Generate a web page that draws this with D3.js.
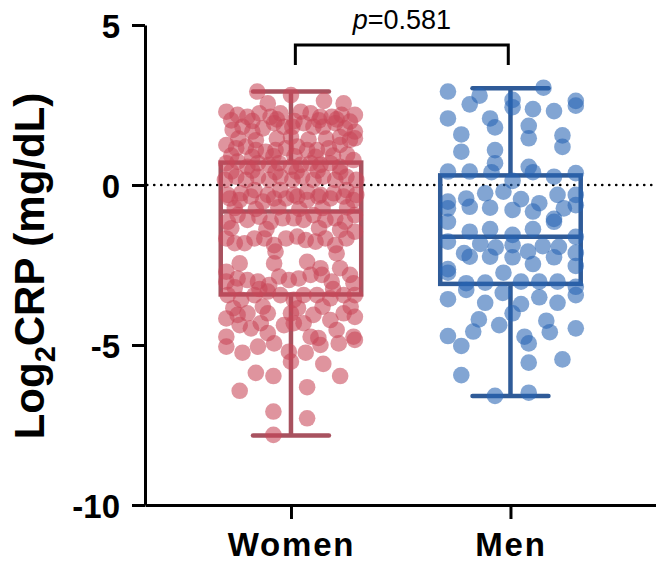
<!DOCTYPE html>
<html>
<head>
<meta charset="utf-8">
<script src="https://cdn.jsdelivr.net/npm/d3@7"></script>
<style>
  html, body { margin: 0; padding: 0; background: #fff; }
  svg { display: block; }
</style>
</head>
<body>
<svg id="chart" width="656" height="562"></svg>
<script>
// ---------------- DATA ----------------
const groups = ["Women", "Men"];
const yTicks = [5, 0, -5, -10];
const yLabelMain = "Log";
const yLabelSub = "2";
const yLabelRest = "CRP (mg/dL)";
const pText = "=0.581";

// box-plot statistics (min, q1, median, q3, max)
const boxMin    = [-7.83, -6.59];
const boxQ1     = [-3.42, -3.09];
const boxMedian = [-0.83, -1.62];
const boxQ3     = [ 0.70,  0.30];
const boxMax    = [ 2.92,  3.02];

// individual points: [horizontal jitter in % of box half-width, Log2CRP value]
const womenPoints = [
  [-48,2.92],[0,2.81],[47,2.63],[75,2.55],[-33,2.55],
  [-92,2.29],[-76,2.19],[-62,2.13],[-45,2.24],[-29,2.13],[-15,2.24],[14,2.29],[28,2.24],[42,2.13],[58,2.13],[72,2.19],[91,2.19],[84,1.98],
  [-85,2.02],[-55,2.00],[-20,2.05],[5,2.00],[40,2.02],[65,2.05],
  [-83,1.72],[-69,1.82],[-55,1.67],[-40,1.77],[-24,1.93],[-10,1.82],[2,1.82],[18,1.93],[32,1.82],[46,1.82],[63,1.93],[77,1.77],[91,1.67],[91,1.46],
  [-75,1.45],[-50,1.40],[-20,1.45],[0,1.50],[25,1.42],[50,1.45],[70,1.50],
  [-92,1.25],[-78,1.15],[-64,1.20],[-50,1.09],[-36,1.04],[-22,1.09],[-7,1.15],[9,1.20],[23,1.09],[37,1.09],[54,1.15],[70,1.25],[84,1.41],
  [-85,0.92],[-55,0.88],[-25,0.90],[5,0.90],[35,0.88],[60,0.92],[80,0.95],
  [-92,0.68],[-76,0.73],[-62,0.57],[-47,0.68],[-31,0.63],[-17,0.68],[0,0.57],[14,0.63],[28,0.68],[42,0.63],[56,0.68],[70,0.57],[89,0.78],
  [-85,0.42],[-55,0.45],[-22,0.40],[8,0.42],[38,0.45],[70,0.40],
  [-94,0.16],[-78,0.26],[-64,0.16],[-47,0.26],[-31,0.16],[-15,0.26],[2,0.16],[16,0.26],[32,0.16],[46,0.26],[63,0.16],[79,0.26],[93,0.16],
  [-90,-0.31],[-71,-0.26],[-52,-0.16],[-33,-0.31],[-15,-0.16],[4,-0.31],[23,-0.21],[42,-0.31],[61,-0.26],[79,-0.16],[93,-0.31],
  [-87,-0.42],[-73,-0.47],[-57,-0.36],[-40,-0.52],[-24,-0.42],[-7,-0.42],[9,-0.36],[23,-0.47],[39,-0.36],[56,-0.42],[75,-0.36],[89,-0.47],
  [-80,-0.72],[-50,-0.75],[-18,-0.70],[12,-0.75],[45,-0.72],[80,-0.70],
  [-90,-1.15],[-76,-0.94],[-62,-1.09],[-45,-0.99],[-29,-1.15],[-12,-1.04],[4,-1.04],[18,-1.09],[32,-0.94],[49,-1.09],[63,-1.04],[77,-1.15],[91,-0.94],
  [-85,-1.35],[-35,-1.38],[40,-1.35],[70,-1.40],
  [-92,-1.67],[-80,-1.82],[-66,-1.82],[-52,-1.67],[-38,-1.67],[-24,-1.88],[-7,-1.67],[9,-1.61],[21,-1.72],[35,-1.77],[49,-1.67],[63,-1.88],[79,-1.67],[91,-1.46],
  [-22,-2.08],[65,-2.14],[-73,-2.45],[-24,-2.45],[23,-2.40],[42,-2.60],
  [-92,-2.71],[-92,-3.02],[-76,-2.92],[-62,-2.97],[-47,-3.02],[-31,-3.13],[-17,-2.86],[-3,-2.97],[11,-2.92],[28,-2.81],[44,-2.81],[58,-3.02],[70,-2.60],[84,-2.81],[89,-3.07],
  [-80,-3.20],[-45,-3.25],[60,-3.25],
  [-90,-3.44],[-71,-3.59],[-52,-3.44],[-33,-3.33],[-15,-3.44],[4,-3.59],[18,-3.44],[37,-3.44],[56,-3.54],[75,-3.44],[91,-3.44],
  [-82,-3.85],[-40,-3.80],[10,-3.85],[45,-3.80],[85,-3.80],
  [-92,-4.17],[-92,-4.74],[-73,-4.38],[-57,-4.48],[-43,-4.32],[-33,-4.63],[-10,-4.38],[4,-4.32],[18,-4.32],[28,-4.74],[39,-4.78],[56,-4.22],[65,-4.53],[75,-4.01],[91,-4.12],[89,-4.74],
  [-62,-4.01],[-33,-4.01],[-76,-4.06],[32,-4.06],[0,-4.01],
  [-92,-5.05],[-69,-5.24],[-47,-5.05],[-24,-4.95],[-3,-5.21],[0,-5.52],[21,-5.24],[42,-5.00],[68,-4.95],[91,-4.84],[46,-5.59],
  [-50,-5.87],[-25,-5.97],[70,-5.97],[-73,-6.43],[23,-6.32],[-25,-7.08],[23,-7.29],[-25,-7.81]
];

const menPoints = [
  [-89,2.92],[-44,2.79],[-58,2.52],[3,2.66],[3,2.43],[47,3.04],[93,2.63],[93,2.48],[32,2.37],[62,2.31],
  [-89,2.08],[-29,2.08],[-22,1.80],[26,1.85],[26,1.46],[-70,1.58],[74,1.55],[74,1.19],[-70,1.04],[-22,1.09],
  [-22,0.68],[-27,0.40],[-89,0.42],[-58,0.42],[26,0.57],[32,0.40],[62,0.26],[93,0.37],[3,0.13],
  [-36,-0.26],[-10,-0.21],[15,-0.44],[-63,-0.42],[-89,-0.52],[-89,-0.73],[-58,-0.68],[-29,-0.71],[3,-0.78],[41,-0.57],[32,-0.83],
  [67,-0.31],[93,-0.31],[93,-0.63],[76,-0.73],[62,-1.06],[62,-1.15],[-89,-1.15],[-58,-1.46],[-29,-1.38],[3,-1.56],[32,-1.38],[93,-1.62],
  [-89,-1.77],[-43,-1.84],[3,-1.88],[-21,-1.95],[46,-1.91],[69,-1.93],[93,-2.12],[-66,-2.13],[-58,-2.24],[-29,-2.24],[3,-2.26],[25,-2.08],[62,-2.26],
  [32,-2.47],[93,-2.53],[-89,-2.63],[-89,-2.74],[-10,-2.74],[-63,-3.07],[-63,-3.28],[-36,-3.05],[15,-3.02],[41,-3.02],[67,-3.02],[93,-3.18],[93,-3.44],
  [-89,-3.57],[-11,-3.37],[-36,-3.68],[15,-3.72],[41,-3.51],[67,-3.68],[3,-4.01],[-45,-4.20],[51,-4.24],[-16,-4.38],[-53,-4.58],[56,-4.60],[93,-4.48],
  [-89,-4.72],[20,-4.74],[26,-4.95],[-70,-5.03],[26,-5.55],[74,-5.45],[-70,-5.94],[-22,-6.59],[26,-6.49]
];

// ---------------- STYLE ----------------
const pointFill   = ["rgb(200,70,88)", "rgb(40,100,180)"];
const pointAlpha  = 0.58;
const boxStroke   = ["#a8525f", "#2f5b98"];
const boxHalf     = 0.32;   // category units
const capHalf     = 0.173;  // category units
const pointR      = 8.3;
const font        = "'Liberation Sans', Arial, Helvetica, sans-serif";

// ---------------- SCALES ----------------
const svg = d3.select("#chart");
const y = d3.scaleLinear().domain([-10, 5]).range([505, 25]);
const x = d3.scaleLinear().domain([-0.665, 1.663]).range([145, 656]);

// zero reference line (dotted)
svg.append("line")
  .attr("x1", x(-0.655)).attr("x2", x(1.65))
  .attr("y1", y(0)).attr("y2", y(0))
  .attr("stroke", "#000").attr("stroke-width", 2.6)
  .attr("stroke-linecap", "round")
  .attr("stroke-dasharray", "0.1,6.9");

// boxes
groups.forEach((g, i) => {
  const gg = svg.append("g")
    .attr("fill", "none")
    .attr("stroke", boxStroke[i])
    .attr("stroke-width", 4.5);
  gg.append("rect")
    .attr("x", x(i - boxHalf)).attr("width", x(i + boxHalf) - x(i - boxHalf))
    .attr("y", y(boxQ3[i])).attr("height", y(boxQ1[i]) - y(boxQ3[i]));
  gg.append("line")
    .attr("x1", x(i - boxHalf)).attr("x2", x(i + boxHalf))
    .attr("y1", y(boxMedian[i])).attr("y2", y(boxMedian[i]));
  gg.append("line")
    .attr("x1", x(i)).attr("x2", x(i))
    .attr("y1", y(boxQ3[i])).attr("y2", y(boxMax[i]));
  gg.append("line")
    .attr("x1", x(i)).attr("x2", x(i))
    .attr("y1", y(boxQ1[i])).attr("y2", y(boxMin[i]));
  [boxMax[i], boxMin[i]].forEach(v => {
    gg.append("line")
      .attr("stroke-linecap", "round")
      .attr("x1", x(i - capHalf)).attr("x2", x(i + capHalf))
      .attr("y1", y(v)).attr("y2", y(v));
  });
});

// points
[womenPoints, menPoints].forEach((pts, i) => {
  svg.append("g")
    .selectAll("circle")
    .data(pts)
    .join("circle")
    .attr("cx", d => x(i + d[0] / 100 * boxHalf))
    .attr("cy", d => y(d[1]))
    .attr("r", pointR)
    .attr("fill", pointFill[i])
    .attr("fill-opacity", pointAlpha);
});

// y axis
const yAxis = svg.append("g")
  .attr("transform", `translate(${x(-0.665)},0)`)
  .call(d3.axisLeft(y).tickValues(yTicks).tickSize(13).tickSizeOuter(0).tickPadding(12)
        .tickFormat(d => String(d)));
yAxis.select(".domain").attr("stroke-width", 3);
yAxis.selectAll(".tick line").attr("stroke-width", 3);
yAxis.selectAll(".tick text")
  .attr("font-family", font).attr("font-weight", "bold").attr("font-size", 33)
  .attr("dy", "0.38em").attr("fill", "#000");

// x axis
const xAxis = svg.append("g")
  .attr("transform", `translate(0,${y(-10)})`)
  .call(d3.axisBottom(x).tickValues([0, 1]).tickSize(14).tickSizeOuter(0).tickPadding(14)
        .tickFormat(i => groups[i]));
xAxis.select(".domain").attr("stroke-width", 3);
xAxis.selectAll(".tick line").attr("stroke-width", 3);
xAxis.selectAll(".tick text")
  .attr("font-family", font).attr("font-weight", "bold").attr("font-size", 33)
  .attr("letter-spacing", "1.8px")
  .attr("fill", "#000");

// y axis title
const yt = svg.append("text")
  .attr("transform", "rotate(-90)")
  .attr("x", -266).attr("y", 43.5)
  .attr("text-anchor", "middle")
  .attr("font-family", font).attr("font-weight", "bold").attr("font-size", 42)
  .attr("fill", "#000");
yt.append("tspan").text(yLabelMain);
yt.append("tspan").attr("font-size", 29).attr("dy", 11).text(yLabelSub);
yt.append("tspan").attr("dy", -11).text(yLabelRest);

// significance bracket
svg.append("path")
  .attr("d", d3.line()([[x(0.02), 65], [x(0.02), 45], [x(0.99), 45], [x(0.99), 65]]))
  .attr("fill", "none").attr("stroke", "#000").attr("stroke-width", 3);

const pt = svg.append("text")
  .attr("x", x(0.505)).attr("y", 29)
  .attr("text-anchor", "middle")
  .attr("font-family", font).attr("font-size", 27).attr("fill", "#000");
pt.append("tspan").attr("font-style", "italic").text("p");
pt.append("tspan").text(pText);
</script>
</body>
</html>
